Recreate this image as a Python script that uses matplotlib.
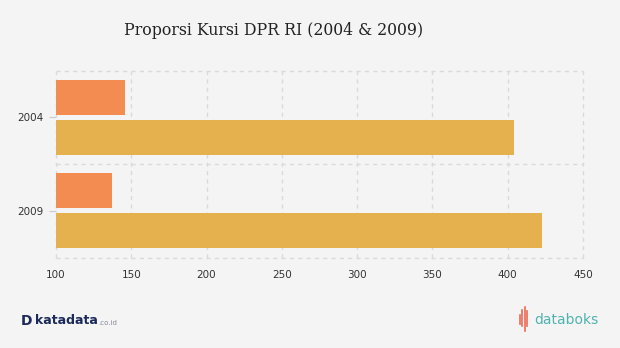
import matplotlib
matplotlib.use("Agg")
import matplotlib.pyplot as plt
from matplotlib.lines import Line2D
import numpy as np

# data
years = ["2004", "2009"]
kursi_a = [146, 137]   # orange bars
kursi_b = [404, 423]   # yellow bars
x_ticks = [100, 150, 200, 250, 300, 350, 400, 450]

bg = "#f4f4f4"
orange = "#f38c50"
yellow = "#e5b04e"
grid_col = "#dadada"

fig = plt.figure(figsize=(6.2, 3.48), dpi=100, facecolor=bg)
ax = fig.add_axes([0.0903, 0.260, 0.850, 0.537], facecolor=bg)

y = np.arange(len(years))
h = 0.375
off = 0.214
ax.barh(y - off, np.array(kursi_a) - 100, left=100, height=h, color=orange, zorder=3)
ax.barh(y + off, np.array(kursi_b) - 100, left=100, height=h, color=yellow, zorder=3)

ax.set_xlim(100, 450)
ax.set_ylim(1.5, -0.5)
ax.set_xticks(x_ticks)
ax.set_yticks(y)
ax.set_yticklabels(years)

for s in ax.spines.values():
    s.set_visible(False)

for xv in x_ticks:
    ax.axvline(xv, color=grid_col, lw=1, ls=(0, (3, 3)), zorder=1, clip_on=False)
for yv in [-0.5, 0.5, 1.5]:
    ax.axhline(yv, color=grid_col, lw=1, ls=(0, (3, 3)), zorder=1, clip_on=False)

ax.tick_params(axis="x", length=0, pad=9, labelsize=7.5, labelcolor="#333333")
ax.tick_params(axis="y", length=5, width=0.8, color="#cccccc", pad=4,
               labelsize=7.5, labelcolor="#333333")

fig.text(0.442, 0.913, "Proporsi Kursi DPR RI (2004 & 2009)", ha="center", va="center",
         fontsize=11.3, family="DejaVu Serif", color="#222222")

# footer logos as text
fig.text(0.033, 0.078, "D", ha="left", va="center", fontsize=10, fontweight="bold",
         color="#1b2a5a")
fig.text(0.056, 0.078, "katadata", ha="left", va="center", fontsize=9, fontweight="bold",
         color="#1b2a5a")
fig.text(0.158, 0.071, ".co.id", ha="left", va="center", fontsize=5, color="#8a8a9a")

for dx, y0, y1 in [(0, 0.07, 0.095), (0.004, 0.062, 0.108),
                   (0.008, 0.05, 0.118), (0.012, 0.062, 0.105)]:
    fig.add_artist(Line2D([0.838 + dx, 0.838 + dx], [y0, y1], transform=fig.transFigure,
                          color="#ec6a55", lw=1.2))
fig.text(0.861, 0.080, "databoks", ha="left", va="center", fontsize=10,
         color="#4fb3b0")

fig.savefig("out.png", dpi=100, facecolor=bg)
